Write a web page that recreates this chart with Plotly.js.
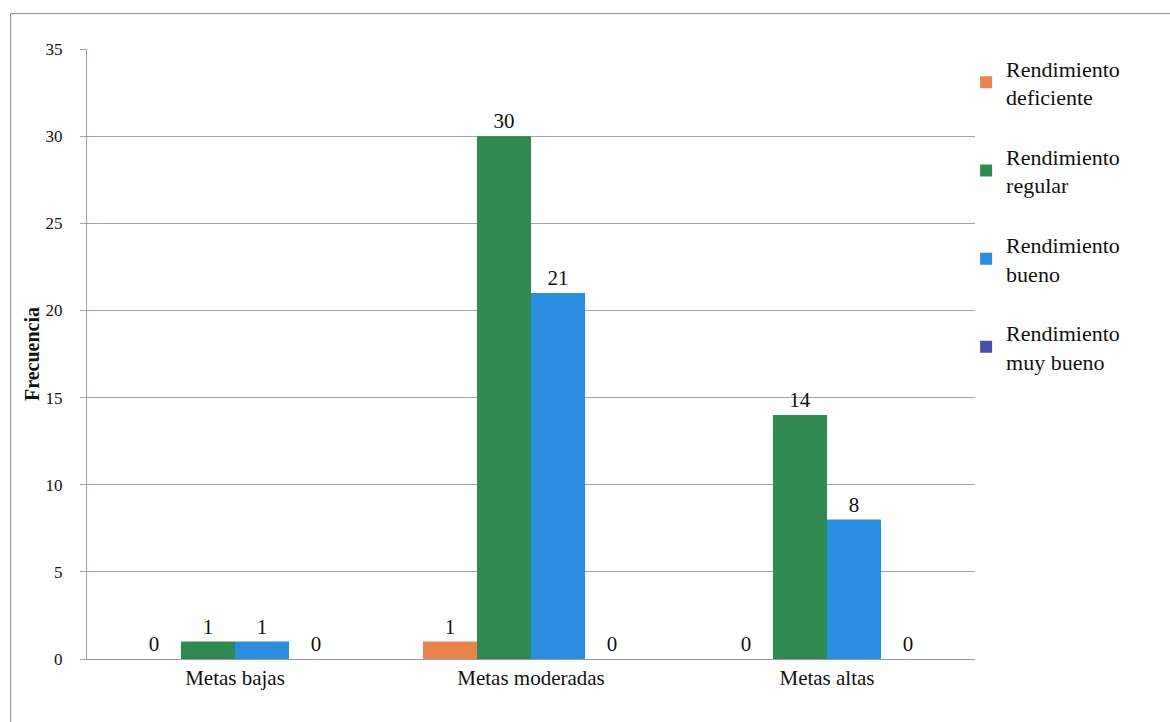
<!DOCTYPE html>
<html>
<head>
<meta charset="utf-8">
<script src="https://cdn.plot.ly/plotly-3.0.1.min.js"></script>
<style>html,body{margin:0;padding:0;background:#fff;}#chart{width:1170px;height:722px;}</style>
</head>
<body>
<div id="chart"></div>
<script>
const categories = ["Metas bajas", "Metas moderadas", "Metas altas"];
const seriesNames = ["Rendimiento<br>deficiente", "Rendimiento<br>regular", "Rendimiento<br>bueno", "Rendimiento<br>muy bueno"];
const deficiente = [0, 1, 0];
const regular = [1, 30, 14];
const bueno = [1, 21, 8];
const muyBueno = [0, 0, 0];
const colors = ["#E8834E", "#2E8A50", "#2A8EE0", "#4B50A3"];
const yTicks = [0, 5, 10, 15, 20, 25, 30, 35];

const allSeries = [deficiente, regular, bueno, muyBueno];
const FONT = "Liberation Serif";

const traces = allSeries.map((vals, i) => ({
  type: "bar",
  name: seriesNames[i],
  x: categories,
  y: vals,
  text: vals.map(String),
  textposition: "outside",
  cliponaxis: false,
  textfont: {family: FONT, size: 21, color: "#111"},
  marker: {color: colors[i]},
  legendgroup: "g" + i
}));

const layout = {
  width: 1170, height: 722,
  margin: {l: 87, r: 195, t: 49, b: 63},
  paper_bgcolor: "#fff", plot_bgcolor: "#fff",
  barmode: "group",
  bargap: 0.27,
  bargroupgap: 0,
  font: {family: FONT, color: "#111"},
  xaxis: {
    type: "category",
    tickfont: {family: FONT, size: 21, color: "#111"},
    showline: true, linecolor: "#9a9aa8", linewidth: 1,
    ticks: "", showgrid: false
  },
  yaxis: {
    range: [0, 35],
    tickvals: yTicks,
    tickfont: {family: FONT, size: 17, color: "#111"},
    showgrid: true, gridcolor: "#a0a0b4", gridwidth: 1,
    showline: true, linecolor: "#a0a0b4", linewidth: 1,
    ticks: "outside", ticklen: 6, tickcolor: "#a0a0b4",
    ticklabelstandoff: 14,
    zeroline: false,
    title: {text: "<b>Frecuencia</b>", font: {family: FONT, size: 20, color: "#111"}, standoff: 0}
  },
  legend: {
    x: 0.99, y: 1.003, xanchor: "left", yanchor: "top",
    font: {family: FONT, size: 22, color: "#111"},
    tracegroupgap: 28,
    itemwidth: 30,
    traceorder: "grouped",
    bgcolor: "rgba(0,0,0,0)"
  },
  shapes: [
    {type: "line", xref: "paper", yref: "paper", x0: -0.086, x1: 1.3, y0: 1.058, y1: 1.058, line: {color: "#8a8a98", width: 1}},
    {type: "line", xref: "paper", yref: "paper", x0: -0.086, x1: -0.086, y0: 1.058, y1: -0.2, line: {color: "#8a8a98", width: 1}}
  ],
  showlegend: true
};

Plotly.newPlot("chart", traces, layout, {displayModeBar: false});
</script>
</body>
</html>
